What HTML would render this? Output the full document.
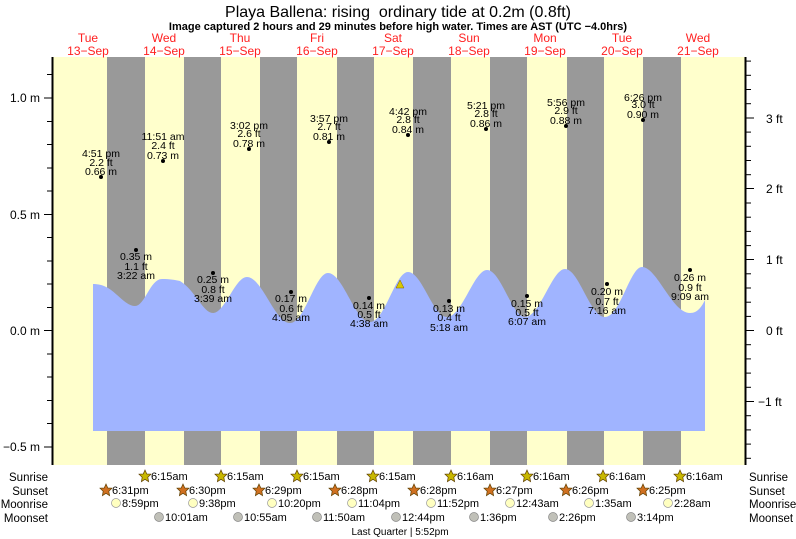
<!DOCTYPE html>
<html><head><meta charset="utf-8"><style>body{margin:0;background:#fff}svg{display:block;font-family:"Liberation Sans",sans-serif}</style></head><body>
<svg width="796" height="539" viewBox="0 0 796 539" xmlns="http://www.w3.org/2000/svg">
<rect x="53" y="57" width="692" height="408" fill="#ffffcc"/>
<g fill="#999999">
<rect x="107" y="57" width="38" height="408"/>
<rect x="184" y="57" width="37" height="408"/>
<rect x="260" y="57" width="37" height="408"/>
<rect x="337" y="57" width="37" height="408"/>
<rect x="413" y="57" width="38" height="408"/>
<rect x="490" y="57" width="37" height="408"/>
<rect x="567" y="57" width="37" height="408"/>
<rect x="643" y="57" width="38" height="408"/>
</g>
<path fill="#a0b4ff" d="M93,431 L93,284 C98,284 103,285 108,288 C118,294 126,306 135,306 C145,306 150,279 162,279 C170,279 175,280 180,281 C195,290 203,313 213,313 C225,313 235,277 247,277 C262,277 275,323 290,323 C305,323 315,273 328,273 C343,273 355,322 370,322 C385,322 395,272 408,272 C422,272 433,317 447,317 C462,317 474,270 487,270 C501,270 512,317 525,317 C540,317 552,269 565,269 C579,269 590,317 605,317 C620,317 630,267 642,267 C657,267 672,313 690,313 C698,313 702,306 705,300 L705,431 Z"/>
<polygon points="396,288 400,280 404,288" fill="#d8c800" stroke="#806000" stroke-width="0.5"/>
<g stroke="#000" stroke-width="1">
<line x1="52.5" y1="57" x2="52.5" y2="465" stroke-width="2"/>
<line x1="745.5" y1="57" x2="745.5" y2="465" stroke-width="2"/>
<line x1="44" y1="98" x2="52" y2="98"/><line x1="44" y1="214.5" x2="52" y2="214.5"/><line x1="44" y1="330.5" x2="52" y2="330.5"/><line x1="44" y1="447" x2="52" y2="447"/>
<line x1="47" y1="74.5" x2="52" y2="74.5"/><line x1="47" y1="121.5" x2="52" y2="121.5"/><line x1="47" y1="144.5" x2="52" y2="144.5"/><line x1="47" y1="168" x2="52" y2="168"/><line x1="47" y1="191" x2="52" y2="191"/><line x1="47" y1="237.5" x2="52" y2="237.5"/><line x1="47" y1="261" x2="52" y2="261"/><line x1="47" y1="284" x2="52" y2="284"/><line x1="47" y1="307.5" x2="52" y2="307.5"/><line x1="47" y1="354" x2="52" y2="354"/><line x1="47" y1="377" x2="52" y2="377"/><line x1="47" y1="400.5" x2="52" y2="400.5"/><line x1="47" y1="423.5" x2="52" y2="423.5"/>
<line x1="746" y1="118" x2="754" y2="118"/><line x1="746" y1="188.5" x2="754" y2="188.5"/><line x1="746" y1="259.5" x2="754" y2="259.5"/><line x1="746" y1="330.5" x2="754" y2="330.5"/><line x1="746" y1="401.5" x2="754" y2="401.5"/>
<line x1="746" y1="61.1" x2="751" y2="61.1"/><line x1="746" y1="75.3" x2="751" y2="75.3"/><line x1="746" y1="89.5" x2="751" y2="89.5"/><line x1="746" y1="103.7" x2="751" y2="103.7"/>
<line x1="746" y1="132.1" x2="751" y2="132.1"/><line x1="746" y1="146.3" x2="751" y2="146.3"/><line x1="746" y1="160.5" x2="751" y2="160.5"/><line x1="746" y1="174.7" x2="751" y2="174.7"/>
<line x1="746" y1="203" x2="751" y2="203"/><line x1="746" y1="217.2" x2="751" y2="217.2"/><line x1="746" y1="231.4" x2="751" y2="231.4"/><line x1="746" y1="245.6" x2="751" y2="245.6"/>
<line x1="746" y1="273.8" x2="751" y2="273.8"/><line x1="746" y1="288" x2="751" y2="288"/><line x1="746" y1="302.2" x2="751" y2="302.2"/><line x1="746" y1="316.4" x2="751" y2="316.4"/>
<line x1="746" y1="344.7" x2="751" y2="344.7"/><line x1="746" y1="358.9" x2="751" y2="358.9"/><line x1="746" y1="373.1" x2="751" y2="373.1"/><line x1="746" y1="387.3" x2="751" y2="387.3"/>
<line x1="746" y1="415.7" x2="751" y2="415.7"/><line x1="746" y1="429.9" x2="751" y2="429.9"/><line x1="746" y1="444.1" x2="751" y2="444.1"/><line x1="746" y1="458.3" x2="751" y2="458.3"/>
</g>
<g font-size="12" fill="#000">
<text x="40" y="102" text-anchor="end">1.0 m</text>
<text x="40" y="219" text-anchor="end">0.5 m</text>
<text x="40" y="335" text-anchor="end">0.0 m</text>
<text x="40" y="451" text-anchor="end">−0.5 m</text>
<text x="766" y="123">3 ft</text>
<text x="766" y="193">2 ft</text>
<text x="766" y="264">1 ft</text>
<text x="766" y="335">0 ft</text>
<text x="758" y="406">−1 ft</text>
</g>
<text x="398" y="17" font-size="16" text-anchor="middle">Playa Ballena: rising&#160; ordinary tide at 0.2m (0.8ft)</text>
<text x="398" y="30" font-size="11" font-weight="bold" text-anchor="middle">Image captured 2 hours and 29 minutes before high water. Times are AST (UTC −4.0hrs)</text>
<g font-size="12" fill="#ff2020" text-anchor="middle">
<text x="88" y="42">Tue</text><text x="88" y="55">13−Sep</text>
<text x="164" y="42">Wed</text><text x="164" y="55">14−Sep</text>
<text x="240" y="42">Thu</text><text x="240" y="55">15−Sep</text>
<text x="317" y="42">Fri</text><text x="317" y="55">16−Sep</text>
<text x="393" y="42">Sat</text><text x="393" y="55">17−Sep</text>
<text x="469" y="42">Sun</text><text x="469" y="55">18−Sep</text>
<text x="545" y="42">Mon</text><text x="545" y="55">19−Sep</text>
<text x="622" y="42">Tue</text><text x="622" y="55">20−Sep</text>
<text x="698" y="42">Wed</text><text x="698" y="55">21−Sep</text>
</g>
<g font-size="10.5" fill="#000" text-anchor="middle">
<circle cx="101" cy="177" r="2"/><text x="101" y="157">4:51 pm</text><text x="101" y="166">2.2 ft</text><text x="101" y="175">0.66 m</text>
<circle cx="163" cy="161" r="2"/><text x="163" y="140">11:51 am</text><text x="163" y="149">2.4 ft</text><text x="163" y="159">0.73 m</text>
<circle cx="249" cy="149" r="2"/><text x="249" y="129">3:02 pm</text><text x="249" y="137">2.6 ft</text><text x="249" y="147">0.78 m</text>
<circle cx="329" cy="142" r="2"/><text x="329" y="122">3:57 pm</text><text x="329" y="130">2.7 ft</text><text x="329" y="140">0.81 m</text>
<circle cx="408" cy="135" r="2"/><text x="408" y="115">4:42 pm</text><text x="408" y="123">2.8 ft</text><text x="408" y="133">0.84 m</text>
<circle cx="486" cy="129" r="2"/><text x="486" y="109">5:21 pm</text><text x="486" y="117">2.8 ft</text><text x="486" y="127">0.86 m</text>
<circle cx="566" cy="126" r="2"/><text x="566" y="106">5:56 pm</text><text x="566" y="114">2.9 ft</text><text x="566" y="124">0.88 m</text>
<circle cx="643" cy="120" r="2"/><text x="643" y="101">6:26 pm</text><text x="643" y="108">3.0 ft</text><text x="643" y="118">0.90 m</text>
<circle cx="136" cy="250" r="2"/><text x="136" y="260">0.35 m</text><text x="136" y="270">1.1 ft</text><text x="136" y="279">3:22 am</text>
<circle cx="213" cy="273" r="2"/><text x="213" y="283">0.25 m</text><text x="213" y="293">0.8 ft</text><text x="213" y="302">3:39 am</text>
<circle cx="291" cy="292" r="2"/><text x="291" y="302">0.17 m</text><text x="291" y="312">0.6 ft</text><text x="291" y="321">4:05 am</text>
<circle cx="369" cy="298" r="2"/><text x="369" y="309">0.14 m</text><text x="369" y="318">0.5 ft</text><text x="369" y="327">4:38 am</text>
<circle cx="449" cy="301" r="2"/><text x="449" y="312">0.13 m</text><text x="449" y="321">0.4 ft</text><text x="449" y="331">5:18 am</text>
<circle cx="527" cy="296" r="2"/><text x="527" y="307">0.15 m</text><text x="527" y="316">0.5 ft</text><text x="527" y="325">6:07 am</text>
<circle cx="607" cy="284" r="2"/><text x="607" y="295">0.20 m</text><text x="607" y="305">0.7 ft</text><text x="607" y="314">7:16 am</text>
<circle cx="690" cy="270" r="2"/><text x="690" y="281">0.26 m</text><text x="690" y="291">0.9 ft</text><text x="690" y="300">9:09 am</text>
</g>
<g font-size="11.5" fill="#000">
<text x="48" y="481" text-anchor="end">Sunrise</text><text x="48" y="495" text-anchor="end">Sunset</text><text x="48" y="508" text-anchor="end">Moonrise</text><text x="48" y="522" text-anchor="end">Moonset</text>
<text x="749" y="481">Sunrise</text><text x="749" y="495">Sunset</text><text x="749" y="508">Moonrise</text><text x="749" y="522">Moonset</text>
</g>
<defs>
<polygon id="st" points="0,-6 1.8,-2 6,-1.8 2.8,1.2 3.6,5.6 0,3.3 -3.6,5.6 -2.8,1.2 -6,-1.8 -1.8,-2" stroke="#604000" stroke-width="0.7"/>
</defs>
<g fill="#c8b800">
<use href="#st" x="145" y="476"/><use href="#st" x="221" y="476"/><use href="#st" x="297" y="476"/><use href="#st" x="373" y="476"/><use href="#st" x="451" y="476"/><use href="#st" x="527" y="476"/><use href="#st" x="603" y="476"/><use href="#st" x="680" y="476"/>
</g>
<g fill="#d07020">
<use href="#st" x="106" y="490"/><use href="#st" x="183" y="490"/><use href="#st" x="259" y="490"/><use href="#st" x="335" y="490"/><use href="#st" x="414" y="490"/><use href="#st" x="490" y="490"/><use href="#st" x="566" y="490"/><use href="#st" x="643" y="490"/>
</g>
<g fill="#ffffc0" stroke="#999" stroke-width="0.7">
<circle cx="116" cy="503" r="4.5"/><circle cx="193" cy="503" r="4.5"/><circle cx="272" cy="503" r="4.5"/><circle cx="352" cy="503" r="4.5"/><circle cx="431" cy="503" r="4.5"/><circle cx="510" cy="503" r="4.5"/><circle cx="589" cy="503" r="4.5"/><circle cx="668" cy="503" r="4.5"/>
</g>
<g fill="#c0c0b8" stroke="#888" stroke-width="0.7">
<circle cx="159" cy="517" r="4.5"/><circle cx="238" cy="517" r="4.5"/><circle cx="317" cy="517" r="4.5"/><circle cx="396" cy="517" r="4.5"/><circle cx="474" cy="517" r="4.5"/><circle cx="553" cy="517" r="4.5"/><circle cx="631" cy="517" r="4.5"/>
</g>
<g font-size="11" fill="#000">
<text x="151" y="480">6:15am</text><text x="227" y="480">6:15am</text><text x="303" y="480">6:15am</text><text x="379" y="480">6:15am</text><text x="457" y="480">6:16am</text><text x="533" y="480">6:16am</text><text x="609" y="480">6:16am</text><text x="686" y="480">6:16am</text>
<text x="112" y="494">6:31pm</text><text x="189" y="494">6:30pm</text><text x="265" y="494">6:29pm</text><text x="341" y="494">6:28pm</text><text x="420" y="494">6:28pm</text><text x="496" y="494">6:27pm</text><text x="572" y="494">6:26pm</text><text x="649" y="494">6:25pm</text>
<text x="122" y="507">8:59pm</text><text x="199" y="507">9:38pm</text><text x="278" y="507">10:20pm</text><text x="358" y="507">11:04pm</text><text x="437" y="507">11:52pm</text><text x="516" y="507">12:43am</text><text x="595" y="507">1:35am</text><text x="674" y="507">2:28am</text>
<text x="165" y="521">10:01am</text><text x="244" y="521">10:55am</text><text x="323" y="521">11:50am</text><text x="402" y="521">12:44pm</text><text x="480" y="521">1:36pm</text><text x="559" y="521">2:26pm</text><text x="637" y="521">3:14pm</text>
</g>
<text x="400" y="535" font-size="10" text-anchor="middle">Last Quarter | 5:52pm</text>
</svg>
</body></html>
